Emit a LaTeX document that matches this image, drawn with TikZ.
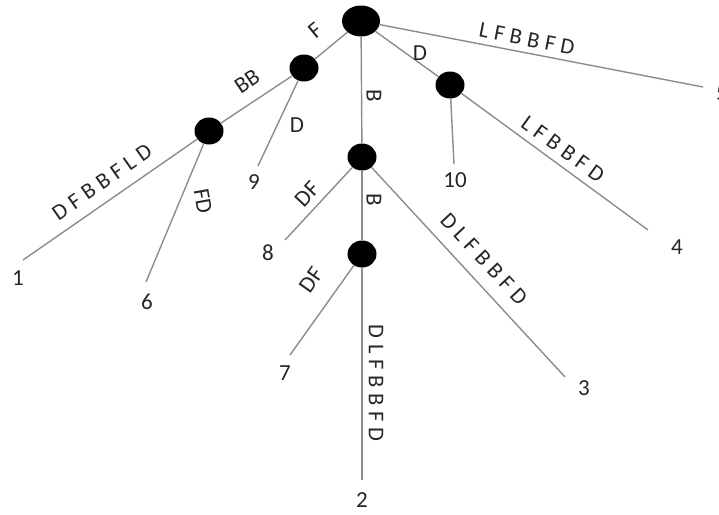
\documentclass[tikz,border=0pt]{standalone}
\usepackage{fontspec}
\setmainfont{Carlito}
\newfontfamily\spacedfont[LetterSpace=25]{Carlito}
\usetikzlibrary{shapes.geometric}
\tikzset{
  blob/.style={ellipse, fill=black, draw=none, inner sep=0pt},
  bigblob/.style={blob, minimum width=38pt, minimum height=31pt},
  smallblob/.style={blob, minimum width=29pt, minimum height=27pt},
  branch/.style={draw=black!45, line width=1.4pt},
  lbl/.style={inner sep=0pt, text=black!85, font=\fontsize{23}{23}\selectfont},
  slbl/.style={inner sep=0pt, text=black!85, font=\fontsize{22.5}{22.5}\spacedfont},
  leaf/.style={inner sep=0pt, text=black!85, font=\fontsize{23}{23}\selectfont}
}
\begin{document}
\begin{tikzpicture}[x=1pt,y=-1pt]
\useasboundingbox (0,0) rectangle (719,514);
% inner nodes
\node[bigblob] (root) at (361,21) {};
\node[smallblob] (nF) at (304,68) {};
\node[smallblob] (nBB) at (209,131) {};
\node[smallblob] (nD) at (450,85) {};
\node[smallblob] (nB1) at (362,157) {};
\node[smallblob] (nB2) at (362,254) {};
% leaf ends
\coordinate (c1) at (23,260);
\coordinate (c6) at (146,282);
\coordinate (c9) at (258,166);
\coordinate (c8) at (285,240);
\coordinate (c7) at (290,355);
\coordinate (c2) at (362,480);
\coordinate (c3) at (565,377);
\coordinate (c10) at (454,164);
\coordinate (c4) at (648,230);
\coordinate (c5) at (703,87);
% connectors
\draw[branch] (root) -- (nF);
\draw[branch] (nF) -- (nBB);
\draw[branch] (nBB) -- (c1);
\draw[branch] (nBB) -- (c6);
\draw[branch] (nF) -- (c9);
\draw[branch] (root) -- (nB1);
\draw[branch] (nB1) -- (nB2);
\draw[branch] (nB1) -- (c8);
\draw[branch] (nB1) -- (c3);
\draw[branch] (nB2) -- (c7);
\draw[branch] (nB2) -- (c2);
\draw[branch] (root) -- (nD);
\draw[branch] (nD) -- (c10);
\draw[branch] (nD) -- (c4);
\draw[branch] (root) -- (c5);
% edge labels
\node[lbl, rotate=39] (eF) at (315,30) {F};
\node[lbl, rotate=34] (eBB) at (247,81) {BB};
\node[lbl] (eD9) at (297,125) {D};
\node[lbl, rotate=-90] (eB1) at (374,96) {B};
\node[lbl] (eD) at (420,53) {D};
\node[slbl, rotate=-11] (e5) at (527,39) {LFBBFD};
\node[slbl, rotate=-36] (e4) at (563,149) {LFBBFD};
\node[slbl, rotate=35] (e1) at (102,182) {DFBBFLD};
\node[lbl, rotate=-80] (e6) at (203,201) {FD};
\node[lbl, rotate=47] (e8) at (307,194) {DF};
\node[lbl, rotate=-90] (eB2) at (374,200) {B};
\node[slbl, rotate=-47] (e3) at (484,259) {DLFBBFD};
\node[lbl, rotate=55] (e7) at (311,280) {DF};
\node[slbl, rotate=-90] (e2) at (376,383) {DLFBBFD};
% leaf labels
\node[leaf] (l1) at (18,278) {1};
\node[leaf] (l6) at (147,302) {6};
\node[leaf] (l9) at (254,182) {9};
\node[leaf] (l8) at (268,253) {8};
\node[leaf] (l7) at (285,373) {7};
\node[leaf] (l2) at (362,500) {2};
\node[leaf] (l3) at (584,388) {3};
\node[leaf] (l10) at (455,180) {10};
\node[leaf] (l4) at (677,247) {4};
\node[leaf] (l5) at (722,93) {5};
\end{tikzpicture}
\end{document}
